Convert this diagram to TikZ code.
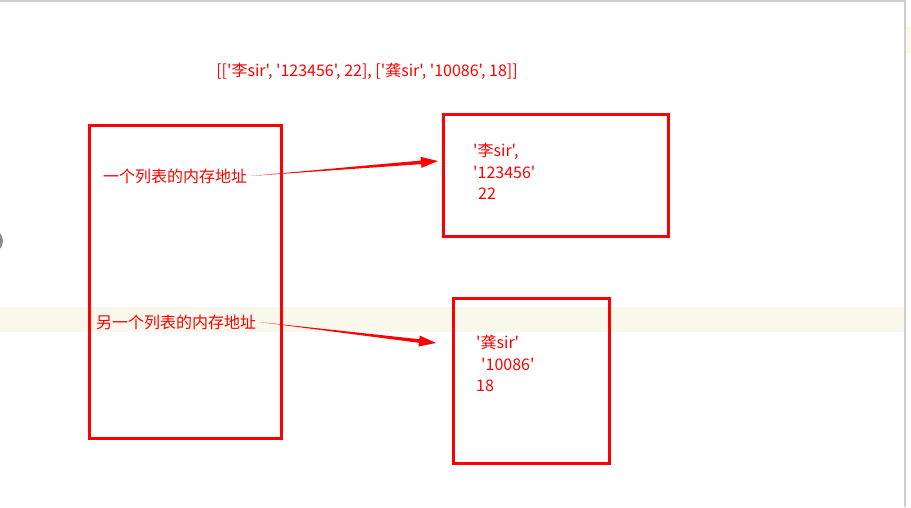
\documentclass[tikz,border=0pt]{standalone}
\usepackage{fontspec}
\setmainfont[Ligatures=TeXOff]{Noto Sans CJK SC}
\usepackage{xcolor}
\usepackage{tikz}
\usetikzlibrary{positioning,calc}
\definecolor{memred}{HTML}{FF0000}
\definecolor{bandbeige}{HTML}{FAF8EC}
\definecolor{framegray}{HTML}{CFCFCF}
\definecolor{knobgray}{HTML}{8C8C8C}
\tikzset{
    membox/.style={
        draw=memred, line width=3pt, fill=none,
        inner sep=0pt
    },
    memtext/.style={
        text=memred, font=\fontsize{16}{21.5}\selectfont,
        align=left, inner sep=3pt
    },
    pointer/.style={fill=memred},
}

\begin{document}
\begin{tikzpicture}[x=1pt, y=-1pt]
    \useasboundingbox (0,0) rectangle (911,507);
    % page background
    \fill[white] (0,0) rectangle (911,507);
    \fill[bandbeige] (0,307) rectangle (905,332);
    \fill[bandbeige] (906,27) rectangle (911,53);
    \draw[framegray, line width=1.2pt] (0,1) -- (905,1);
    \draw[framegray, line width=1.5pt] (905,0) -- (905,507);
    \fill[knobgray] (-9,241) circle (12);
    % the nested list
    \node[memtext, anchor=center] (nested) at (367,71)
        {[['李sir', '123456', 22], ['龚sir', '10086', 18]]};
    % memory boxes
    \node[membox, minimum width=192pt, minimum height=313pt] (outer) at (185,281.5) {};
    \node[membox, minimum width=225pt, minimum height=122pt] (inner1) at (555.5,175) {};
    \node[membox, minimum width=156pt, minimum height=165pt] (inner2) at (531,380.5) {};
    \node[memtext, anchor=north west] (items1) at (470,140)
        {'李sir',\\'123456'\\\hspace{5pt}22};
    \node[memtext, anchor=north west] (items2) at (473,332)
        {'龚sir'\\\hspace{5pt}'10086'\\18};
    % addresses
    \node[memtext, anchor=west] (addr1) at (100,176) {一个列表的内存地址};
    \node[memtext, anchor=west] (addr2) at (93,322) {另一个列表的内存地址};
    % pointers
    \coordinate (tip1) at (438,161);
    \coordinate (tip2) at (436,343);
    \coordinate (head1) at ($(tip1)!17pt!(addr1.east)$);
    \coordinate (head2) at ($(tip2)!17pt!(addr2.east)$);
    \fill[pointer] (addr1.east)
        -- ($(head1)!1.8pt!90:(addr1.east)$) -- ($(head1)!5.5pt!90:(addr1.east)$)
        -- (tip1)
        -- ($(head1)!5.5pt!-90:(addr1.east)$) -- ($(head1)!1.8pt!-90:(addr1.east)$)
        -- cycle;
    \fill[pointer] (addr2.east)
        -- ($(head2)!1.8pt!90:(addr2.east)$) -- ($(head2)!5.5pt!90:(addr2.east)$)
        -- (tip2)
        -- ($(head2)!5.5pt!-90:(addr2.east)$) -- ($(head2)!1.8pt!-90:(addr2.east)$)
        -- cycle;
\end{tikzpicture}
\end{document}
